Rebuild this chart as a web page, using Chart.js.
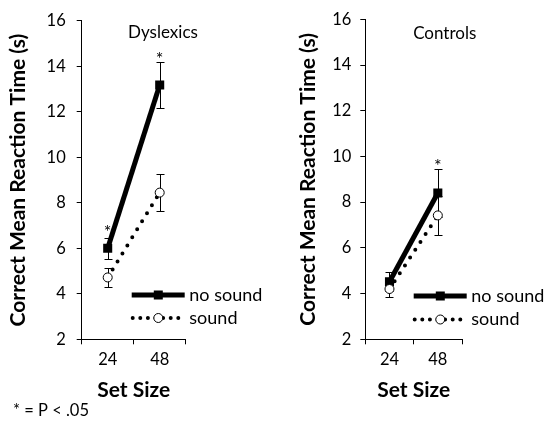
<!DOCTYPE html>
<html><head><meta charset="utf-8">
<script src="https://cdn.jsdelivr.net/npm/chart.js@4.4.0/dist/chart.umd.min.js"></script>
<style>
html,body{margin:0;padding:0;background:#fff;}
#wrap{position:relative;width:544px;height:425px;overflow:hidden;}
.panel{position:absolute;top:0;width:272px;height:425px;}
canvas{display:block;}
</style></head><body>
<div id="wrap">
<div class="panel" style="left:0"><canvas id="c1" width="272" height="425"></canvas></div>
<div class="panel" style="left:272px"><canvas id="c2" width="272" height="425"></canvas></div>
</div>
<script>
// ---- data ----
const setSizes = ['24', '48'];
const yTicks = [2, 4, 6, 8, 10, 12, 14, 16];
const seriesNames = ['no sound', 'sound'];
const panelTitles = ['Dyslexics', 'Controls'];
const yTitle = 'Correct Mean Reaction Time (s)';
const xTitle = 'Set Size';
const footnote = '* = P < .05';

const dysNoSound = [6.0, 13.18];
const dysNoSoundErr = [0.45, 1.03];
const dysSound = [4.72, 8.45];
const dysSoundErr = [0.43, 0.82];
const dysStars = [6.95, 14.55];

const ctlNoSound = [4.52, 8.4];
const ctlNoSoundErr = [0.42, 1.06];
const ctlSound = [4.2, 7.42];
const ctlSoundErr = [0.36, 0.86];
const ctlStars = [null, 9.8];

const FONT = 'Lato, "Open Sans", sans-serif';

const overlayPlugin = {
  id: 'overlay',
  beforeDatasetsDraw(chart) {
    const ctx = chart.ctx, y = chart.scales.y;
    ctx.save();
    ctx.strokeStyle = '#000';
    ctx.lineWidth = 1;
    chart.data.datasets.forEach((ds, di) => {
      const meta = chart.getDatasetMeta(di);
      ds.errors.forEach((e, i) => {
        const pt = meta.data[i];
        const v = ds.data[i];
        const top = Math.round(y.getPixelForValue(v + e)) + 0.5;
        const bot = Math.round(y.getPixelForValue(v - e)) + 0.5;
        const x = Math.round(pt.x) + 0.5;
        ctx.beginPath();
        ctx.moveTo(x, top); ctx.lineTo(x, bot);
        ctx.moveTo(x - 4, top); ctx.lineTo(x + 4, top);
        ctx.moveTo(x - 4, bot); ctx.lineTo(x + 4, bot);
        ctx.stroke();
      });
    });
    ctx.restore();
  },
  afterDraw(chart) {
    const ctx = chart.ctx, y = chart.scales.y, xs = chart.scales.x;
    const o = chart.options.plugins.overlay;
    ctx.save();
    ctx.fillStyle = '#000';
    // panel title
    ctx.font = '17px ' + FONT;
    ctx.textAlign = 'center';
    ctx.textBaseline = 'middle';
    ctx.fillText(o.title, o.titleX, o.titleY);
    // significance stars
    ctx.font = '18px ' + FONT;
    o.stars.forEach((s, i) => {
      if (s == null) return;
      ctx.fillText('*', xs.getPixelForValue(i), y.getPixelForValue(s) + 5);
    });
    // legend
    const lx = o.legendX, w = 53;
    ctx.strokeStyle = '#000';
    ctx.lineWidth = 5;
    ctx.beginPath(); ctx.moveTo(lx, o.legendY1); ctx.lineTo(lx + w, o.legendY1); ctx.stroke();
    ctx.fillRect(lx + 26.6 - 4.5, o.legendY1 - 4.5, 9, 9);
    ctx.lineWidth = 4;
    ctx.lineCap = 'round';
    ctx.setLineDash([0, 7.6]);
    ctx.beginPath(); ctx.moveTo(lx + 1, o.legendY2); ctx.lineTo(lx + 47, o.legendY2); ctx.stroke();
    ctx.setLineDash([]);
    ctx.lineWidth = 1;
    ctx.beginPath(); ctx.arc(lx + 26.6, o.legendY2, 4.5, 0, Math.PI * 2);
    ctx.fillStyle = '#fff'; ctx.fill(); ctx.stroke();
    ctx.fillStyle = '#000';
    ctx.font = '18px ' + FONT;
    ctx.textAlign = 'left';
    ctx.fillText(seriesNames[0], lx + 57.6, o.legendY1);
    ctx.fillText(seriesNames[1], lx + 57.6, o.legendY2);
    if (o.footnote) {
      ctx.font = '16.5px ' + FONT;
      ctx.textBaseline = 'middle';
      ctx.fillText(footnote, 13, 411);
    }
    ctx.restore();
  }
};

function makeChart(id, noSound, noSoundErr, sound, soundErr, stars, p) {
  return new Chart(document.getElementById(id), {
    type: 'line',
    data: {
      labels: setSizes,
      datasets: [
        {
          label: seriesNames[1], data: sound, errors: soundErr,
          borderColor: '#000', borderWidth: 4, borderDash: [0, 9.4], borderCapStyle: 'round',
          pointStyle: 'circle', pointRadius: 4.5, pointBackgroundColor: '#fff',
          pointBorderColor: '#000', pointBorderWidth: 1, fill: false, tension: 0
        },
        {
          label: seriesNames[0], data: noSound, errors: noSoundErr,
          borderColor: '#000', borderWidth: 5,
          pointStyle: 'rect', pointRadius: 6.4, pointBackgroundColor: '#000',
          pointBorderColor: '#000', pointBorderWidth: 0, fill: false, tension: 0
        }
      ]
    },
    options: {
      responsive: false, animation: false, devicePixelRatio: 1,
      layout: { padding: { left: 0, right: p.padRight, top: 19.3, bottom: 0 } },
      plugins: {
        legend: { display: false }, tooltip: { enabled: false },
        overlay: {
          title: p.title, titleX: p.titleX, titleY: p.titleY, stars: stars,
          legendX: p.legendX, legendY1: p.legendY1, legendY2: p.legendY2, footnote: p.footnote
        }
      },
      scales: {
        x: {
          type: 'category', offset: true,
          grid: { offset: true, drawOnChartArea: false, drawTicks: true, tickLength: 5, color: '#000' },
          border: { display: true, color: '#000', width: 1 },
          ticks: { color: '#000', font: { family: FONT, size: 16.5 }, padding: 5 },
          title: { display: true, text: xTitle, color: '#000', font: { family: FONT, size: 21, weight: 'bold' }, padding: { top: 0, bottom: 22 } },
          afterFit(s) { s.height = 425 - 339.3; }
        },
        y: {
          min: 2, max: 16,
          afterBuildTicks(s) { s.ticks = yTicks.map(v => ({ value: v })); },
          grid: { drawOnChartArea: false, drawTicks: true, tickLength: 5, color: '#000' },
          border: { display: true, color: '#000', width: 1 },
          ticks: { color: '#000', font: { family: FONT, size: 16.5 }, padding: p.yTickPad },
          title: { display: true, text: yTitle, color: '#000', font: { family: FONT, size: 21, weight: 'bold' }, padding: { top: p.yTitlePad, bottom: 0 } },
          afterFit(s) { s.width = p.axisX; }
        }
      }
    },
    plugins: [overlayPlugin]
  });
}

makeChart('c1', dysNoSound, dysNoSoundErr, dysSound, dysSoundErr, dysStars, {
  padRight: 272 - 185.7, axisX: 81.7, yTickPad: 11, yTitlePad: 6,
  title: panelTitles[0], titleX: 163, titleY: 33,
  legendX: 131.7, legendY1: 295, legendY2: 318, footnote: true
});
makeChart('c2', ctlNoSound, ctlNoSoundErr, ctlSound, ctlSoundErr, ctlStars, {
  padRight: 272 - 190, axisX: 93.3, yTickPad: 9, yTitlePad: 24,
  title: panelTitles[1], titleX: 172.7, titleY: 34,
  legendX: 141.7, legendY1: 296, legendY2: 319.5, footnote: false
});
</script>
</body></html>
